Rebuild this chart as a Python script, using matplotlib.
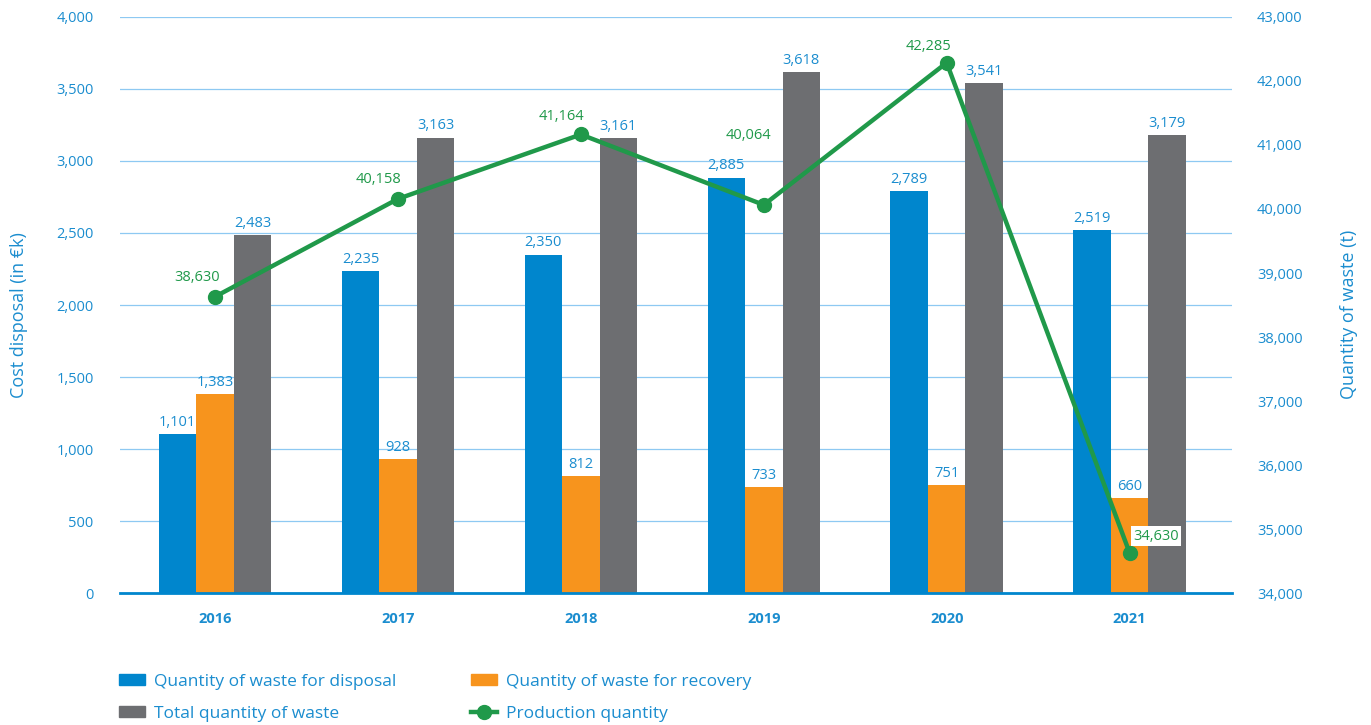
import matplotlib.pyplot as plt
import numpy as np
from matplotlib.lines import Line2D
from matplotlib.patches import Patch

years = ['2016', '2017', '2018', '2019', '2020', '2021']
disposal = [1101, 2235, 2350, 2885, 2789, 2519]
recovery = [1383, 928, 812, 733, 751, 660]
total = [2483, 3163, 3161, 3618, 3541, 3179]
production = [38630, 40158, 41164, 40064, 42285, 34630]

BLUE = '#0086cd'
ORANGE = '#f7941d'
GREY = '#6d6e71'
GREEN = '#20994a'
TEXT_BLUE = '#1b8dcf'
GRID = '#8ec9f2'

# where each production label sits relative to its point (points)
prod_label_offsets = [(-13, 14), (-14, 14), (-14, 13), (-11, 50), (-13, 12), (19, 12)]

plt.rcParams['font.family'] = ['Open Sans', 'DejaVu Sans']

fig = plt.figure(figsize=(13.71, 7.25), dpi=100)
ax = fig.add_axes([0.0875, 0.182, 0.8111, 0.7946])
ax2 = ax.twinx()

x = np.arange(len(years))
w = 0.205

series = [(disposal, BLUE, -w), (recovery, ORANGE, 0), (total, GREY, w)]
for values, color, off in series:
    bars = ax.bar(x + off, values, width=w, color=color, zorder=2)
    for b, v in zip(bars, values):
        ax.annotate(f'{v:,}', (b.get_x() + b.get_width() / 2, v),
                    xytext=(0, 3), textcoords='offset points',
                    ha='center', va='bottom', fontsize=10.5, color=TEXT_BLUE)

ax.set_ylim(0, 4000)
ax.set_yticks(range(0, 4001, 500))
ax.set_yticklabels([f'{v:,}' for v in range(0, 4001, 500)])
ax.set_xlim(-0.52, 5.56)
ax.set_xticks(x)
ax.set_xticklabels(years, fontweight='bold')
ax.grid(axis='y', color=GRID, linewidth=0.9, zorder=0)
ax.set_axisbelow(True)
ax.set_ylabel('Cost disposal (in €k)', color=TEXT_BLUE, fontsize=13)
ax.yaxis.set_label_coords(-0.083, 0.483)

ax2.plot(x, production, color=GREEN, linewidth=3.2, marker='o',
         markersize=10, zorder=5)
ax2.set_ylim(34000, 43000)
ax2.set_yticks(range(34000, 43001, 1000))
ax2.set_yticklabels([f'{v:,}' for v in range(34000, 43001, 1000)])
ax2.set_ylabel('Quantity of waste (t)', color=TEXT_BLUE, fontsize=13)
ax2.yaxis.set_label_coords(1.097, 0.483)

for i, v in enumerate(production):
    box = None
    if i == len(production) - 1:
        box = dict(boxstyle='square,pad=0.15', fc='white', ec='none')
    ax2.annotate(f'{v:,}', (x[i], v), xytext=prod_label_offsets[i],
                 textcoords='offset points', ha='center', va='center',
                 fontsize=10.5, color=GREEN, bbox=box, zorder=6)

for a in (ax, ax2):
    for s in a.spines.values():
        s.set_visible(False)
    a.tick_params(length=0, labelsize=10.5, colors=TEXT_BLUE)
ax.tick_params(axis='x', pad=14)
ax.tick_params(axis='y', pad=19)
ax2.tick_params(axis='y', pad=18)
ax.spines['bottom'].set_visible(True)
ax.spines['bottom'].set_color(BLUE)
ax.spines['bottom'].set_linewidth(2)

handles = [Patch(color=BLUE), Patch(color=GREY), Patch(color=ORANGE),
           Line2D([], [], color=GREEN, linewidth=3.2, marker='o', markersize=10)]
labels = ['Quantity of waste for disposal', 'Total quantity of waste',
          'Quantity of waste for recovery', 'Production quantity']
leg = fig.legend(handles, labels, ncol=2, loc='upper left',
                 bbox_to_anchor=(0.082, 0.080), frameon=False,
                 fontsize=12.5, handlelength=1.5, handleheight=0.6,
                 columnspacing=4.3, labelspacing=0.9, handletextpad=0.5,
                 borderaxespad=0)
for t in leg.get_texts():
    t.set_color(TEXT_BLUE)

fig.savefig('out.png', dpi=100)
